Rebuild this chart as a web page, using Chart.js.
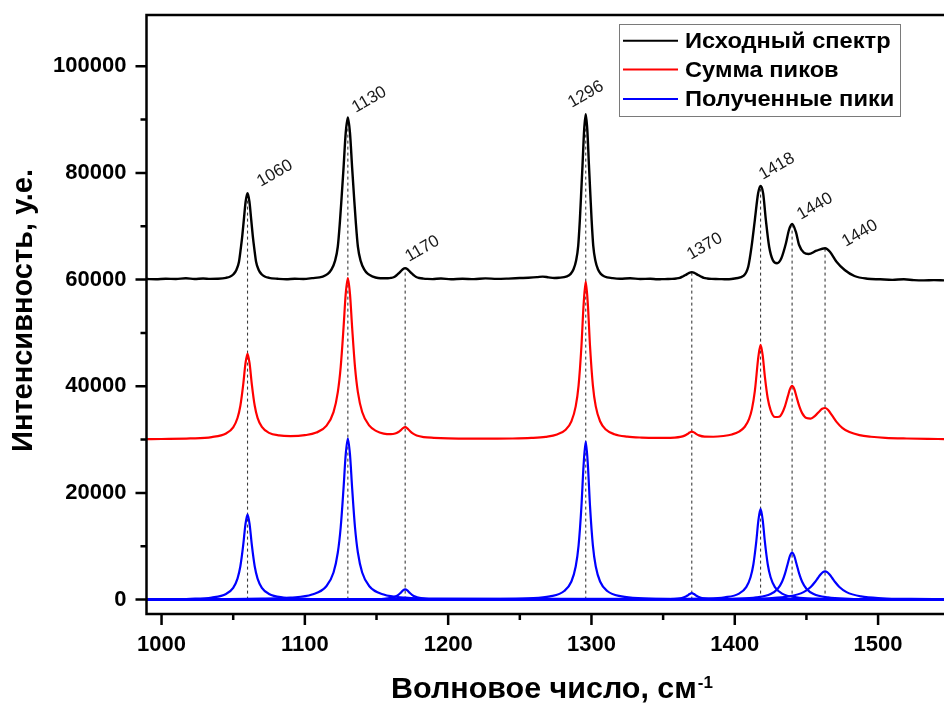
<!DOCTYPE html>
<html lang="ru">
<head>
<meta charset="utf-8">
<title>Разложение спектра на пики</title>
<script src="https://cdn.jsdelivr.net/npm/chart.js@4.4.1/dist/chart.umd.min.js"></script>
<style>
  html, body { margin: 0; padding: 0; background: #ffffff; }
  canvas { display: block; }
</style>
</head>
<body>
<canvas id="chart" width="944" height="704"></canvas>
<script>
const FONT = "'Liberation Sans', Arial, sans-serif";

// Axis ranges and ticks
const X_RANGE = [989.5, 1546];
const Y_RANGE = [-2700, 109600];
const X_TICKS = [1000, 1100, 1200, 1300, 1400, 1500];
const X_MINOR_TICKS = [1050, 1150, 1250, 1350, 1450];
const Y_TICKS = [0, 20000, 40000, 60000, 80000, 100000];
const Y_MINOR_TICKS = [10000, 30000, 50000, 70000, 90000];

const X_TITLE = 'Волновое число, см';
const X_TITLE_SUP = '-1';
const Y_TITLE = 'Интенсивность, у.е.';

const SERIES_NAMES = ['Исходный спектр', 'Сумма пиков', 'Полученные пики'];
const SERIES_COLORS = ['#000000', '#ff0000', '#0000ff'];

// Measured spectrum (offset by 60000)
const SPECTRUM_X = [989.5, 996, 1003, 1010, 1017, 1023, 1029, 1034, 1039, 1045, 1048, 1050.2, 1052.3, 1054, 1055.3, 1056.3, 1057.4, 1058.7,
  1060, 1061.3, 1062.6, 1063.7, 1064.7, 1066, 1067.7, 1069.8, 1072, 1075, 1081, 1087, 1093, 1099, 1105, 1112.5, 1116, 1118.5, 1121, 1123,
  1124.5, 1125.6, 1127, 1128.5, 1130, 1131.5, 1133, 1134.4, 1135.5, 1137, 1139, 1141.5, 1144, 1147.5, 1151, 1155, 1158, 1160.1, 1162.3,
  1164, 1165.2, 1166.7, 1168.35, 1170, 1171.65, 1173.3, 1174.8, 1176, 1177.7, 1179.9, 1182.7, 1185.4, 1189, 1195, 1202, 1210, 1218, 1226,
  1234, 1242, 1250, 1256, 1262, 1266, 1270, 1274, 1277.2, 1282.9, 1285.5, 1287.4, 1289.25, 1290.75, 1291.9, 1292.7, 1293.75, 1294.9, 1296,
  1297.1, 1298.25, 1299.3, 1300.1, 1301.25, 1302.75, 1304.6, 1306.5, 1309.1, 1314.8, 1320, 1327, 1334, 1341, 1346, 1349, 1353.2, 1356.2,
  1359.2, 1361.6, 1363.4, 1364.7, 1366.4, 1368.2, 1370, 1371.8, 1373.6, 1375.3, 1376.6, 1378.4, 1380.8, 1383.8, 1386.8, 1391, 1396, 1401,
  1406, 1409.4, 1411.7, 1414, 1416.3, 1418, 1419.8, 1421.7, 1424, 1426.5, 1429.5, 1432.5, 1435.7, 1437.8, 1440, 1442.6, 1444.9, 1448.2,
  1451.5, 1457, 1463, 1466.4, 1471, 1476.7, 1483.5, 1492.5, 1501.5, 1510, 1518, 1525, 1532, 1539, 1546];
const SPECTRUM_Y = [60100, 60050, 60150, 60100, 60250, 60100, 60200, 60120, 60150, 60330, 60580, 61000, 61850, 63300, 65850, 68100, 71150, 74650,
  76200, 74650, 71150, 68100, 65850, 63300, 61850, 61000, 60580, 60330, 60150, 60050, 60150, 60100, 60260, 60560, 61050, 61850, 63450, 66200,
  70950, 75200, 80950, 87450, 90400, 87450, 80950, 75200, 70950, 66200, 63450, 61850, 61050, 60560, 60300, 60250, 60250, 60310, 60480,
  60810, 61100, 61500, 61950, 62150, 61950, 61500, 61100, 60810, 60480, 60290, 60180, 60120, 60090, 60200, 60050, 60150, 60080, 60230,
  60120, 60180, 60280, 60350, 60450, 60550, 60420, 60300, 60330, 60600, 61070, 61880, 63520, 66330, 71190, 75530, 81400, 88060, 91000,
  88060, 81400, 75530, 71190, 66330, 63520, 61880, 61070, 60580, 60270, 60150, 60250, 60100, 60150, 60050, 60080, 60100, 60130,
  60200, 60320, 60540, 60730, 60980, 61270, 61400, 61270, 60980, 60730, 60540, 60320, 60200, 60130, 60100, 60080, 60050, 60250,
  60670, 62410, 66160, 71160, 76170, 77540, 76170, 71160, 66160, 63670, 63050, 63990, 66800, 69290, 70420, 68970, 66480, 65040,
  64790, 65410, 65860, 65220, 63350, 61790, 60670, 60160, 60050, 59950, 60050, 59900, 59850, 59900, 59850];

// Sum of fitted peaks (offset by 30000)
const SUM_X = [989.5, 1000, 1020, 1035, 1045, 1050, 1053, 1055, 1057, 1058.5, 1060, 1061.5, 1063, 1065, 1067, 1070, 1075, 1082, 1090, 1100,
  1108, 1115, 1120, 1123, 1125, 1127, 1128.5, 1130, 1131.5, 1133, 1135, 1137, 1140, 1145, 1150, 1155, 1160, 1163, 1165, 1167, 1168.5,
  1170, 1171.5, 1173, 1175, 1178, 1183, 1190, 1200, 1215, 1230, 1245, 1258, 1268, 1276, 1282, 1286, 1289, 1291, 1293, 1294.5, 1296,
  1297.5, 1299, 1301, 1303, 1306, 1310, 1316, 1325, 1335, 1345, 1352, 1358, 1362, 1365, 1367, 1368.5, 1370, 1371.5, 1373, 1375, 1379,
  1385, 1392, 1398, 1403, 1407, 1410, 1412, 1414, 1416.5, 1418, 1419.5, 1421, 1423, 1425, 1428, 1431, 1433, 1435, 1437, 1438.5, 1440,
  1441.5, 1443, 1445, 1447, 1450, 1453, 1456, 1459, 1461, 1463, 1465, 1468, 1471, 1475, 1480, 1487, 1495, 1505, 1520, 1535, 1546];
const SUM_Y = [30080, 30110, 30210, 30470, 31150, 32300, 34040, 36350, 40350, 44140, 46130, 44150, 40370, 36380, 34080, 32380, 31260, 30780, 30660, 30820,
  31320, 32580, 35160, 38910, 43600, 50990, 57260, 60280, 57260, 50990, 43590, 38910, 35180, 32600, 31580, 31130, 31010, 31130, 31370, 31780, 32140,
  32320, 32110, 31690, 31200, 30770, 30470, 30330, 30220, 30170, 30170, 30200, 30310, 30520, 30960, 31860, 33420, 36220, 40130, 47490, 55250, 59630,
  55250, 47490, 40130, 36220, 33440, 31880, 31000, 30550, 30370, 30310, 30310, 30370, 30500, 30740, 31040, 31330, 31490, 31350, 31070, 30790, 30560,
  30530, 30670, 30960, 31490, 32400, 33870, 35760, 39090, 45590, 47760, 45750, 41820, 37750, 35540, 34230, 34280, 34950, 36230, 38090, 39460, 40060,
  39480, 38110, 36260, 34960, 34040, 33940, 34430, 35280, 35770, 35920, 35590, 34490, 33330, 32210, 31400, 30830, 30530, 30330, 30200, 30130, 30100];

// Individual fitted bands
const COMPONENT_X = [
  [989.5, 1000, 1020, 1035, 1045, 1050, 1053, 1055, 1057, 1058.5, 1060, 1061.5, 1063, 1065, 1067, 1070, 1075, 1085, 1100, 1120, 1546],
  [989.5, 1070, 1090, 1105, 1115, 1120, 1123, 1125, 1127, 1128.5, 1130, 1131.5, 1133, 1135, 1137, 1140, 1145, 1155, 1170, 1190, 1546],
  [989.5, 1110, 1130, 1145, 1155, 1160, 1163, 1165, 1167, 1168.5, 1170, 1171.5, 1173, 1175, 1177, 1180, 1185, 1195, 1210, 1230, 1546],
  [989.5, 1236, 1256, 1271, 1281, 1286, 1289, 1291, 1293, 1294.5, 1296, 1297.5, 1299, 1301, 1303, 1306, 1311, 1321, 1336, 1356, 1546],
  [989.5, 1310, 1330, 1345, 1355, 1360, 1363, 1365, 1367, 1368.5, 1370, 1371.5, 1373, 1375, 1377, 1380, 1385, 1395, 1410, 1430, 1546],
  [989.5, 1358, 1378, 1393, 1403, 1408, 1411, 1413, 1415, 1416.5, 1418, 1419.5, 1421, 1423, 1425, 1428, 1433, 1443, 1458, 1478, 1546],
  [989.5, 1380, 1400, 1415, 1425, 1430, 1433, 1435, 1437, 1438.5, 1440, 1441.5, 1443, 1445, 1447, 1450, 1455, 1465, 1480, 1500, 1546],
  [989.5, 1403, 1423, 1438, 1448, 1453, 1456, 1458, 1460, 1461.5, 1463, 1464.5, 1466, 1468, 1470, 1473, 1478, 1488, 1503, 1523, 1546]
];
const COMPONENT_Y = [
  [49, 70, 158, 399, 1062, 2207, 3938, 6244, 10240, 14027, 16000, 14027, 10240, 6244, 3938, 2207, 1062, 399, 158, 70, 1],
  [31, 169, 377, 948, 2494, 5086, 8830, 13514, 20908, 27180, 30200, 27180, 20908, 13514, 8830, 5086, 2494, 948, 377, 169, 3],
  [1, 11, 24, 60, 157, 320, 556, 850, 1315, 1710, 1900, 1710, 1315, 850, 556, 320, 157, 60, 24, 11, 0],
  [4, 106, 238, 602, 1612, 3396, 6191, 10106, 17468, 25222, 29600, 25222, 17468, 10106, 6191, 3396, 1612, 602, 238, 106, 6],
  [0, 5, 12, 30, 80, 166, 295, 468, 768, 1052, 1200, 1052, 768, 468, 295, 166, 80, 30, 12, 5, 1],
  [2, 75, 168, 424, 1129, 2345, 4185, 6634, 10880, 14904, 17000, 14904, 10880, 6634, 4185, 2345, 1129, 424, 168, 75, 17],
  [1, 73, 163, 406, 1043, 2044, 3359, 4819, 6782, 8191, 8800, 8191, 6782, 4819, 3359, 2044, 1043, 406, 163, 73, 24],
  [2, 117, 255, 608, 1403, 2372, 3302, 4049, 4770, 5157, 5300, 5157, 4770, 4049, 3302, 2372, 1403, 608, 255, 117, 62]
];

// Band positions, marker lines and their captions
const PEAK_CENTERS = [1060, 1130, 1170, 1296, 1370, 1418, 1440, 1463];
const PEAK_TOPS = [76200, 90400, 62150, 91000, 61400, 77540, 70420, 65860];
const PEAK_LABELS = ['1060', '1130', '1170', '1296', '1370', '1418', '1440', '1440'];
const LABEL_X = [1069.3, 1135.6, 1172.6, 1286.3, 1369.2, 1419.6, 1446.1, 1477.5];
const LABEL_Y = [77350, 91240, 63290, 92170, 63670, 78670, 71160, 66110];

const points = (xs, ys) => xs.map((x, i) => ({ x, y: ys[i] }));

const datasets = [
  { label: SERIES_NAMES[0], data: points(SPECTRUM_X, SPECTRUM_Y), borderColor: SERIES_COLORS[0], borderWidth: 2.4 },
  { label: SERIES_NAMES[1], data: points(SUM_X, SUM_Y), borderColor: SERIES_COLORS[1] },
  ...COMPONENT_X.map((xs, k) => ({
    label: SERIES_NAMES[2], data: points(xs, COMPONENT_Y[k]), borderColor: SERIES_COLORS[2]
  })),
  ...PEAK_CENTERS.map((c, k) => ({
    label: 'marker ' + PEAK_LABELS[k],
    data: [{ x: c, y: 0 }, { x: c, y: PEAK_TOPS[k] }],
    borderColor: '#3c3c3c', borderWidth: 1.1, borderDash: [3, 3],
    cubicInterpolationMode: 'default', tension: 0
  }))
];

// Draws text squeezed or widened horizontally by factor sx
function stretchedText(ctx, text, x, y, sx) {
  ctx.save();
  ctx.translate(x, y);
  ctx.scale(sx, 1);
  ctx.fillText(text, 0, 0);
  ctx.restore();
}

const decorations = {
  id: 'decorations',
  beforeDraw(chart) {
    const ctx = chart.ctx;
    ctx.save();
    ctx.fillStyle = '#ffffff';
    ctx.fillRect(0, 0, chart.width, chart.height);
    ctx.restore();
  },
  afterDatasetsDraw(chart) {
    const { ctx, scales: { x, y } } = chart;
    ctx.save();
    ctx.font = `17px ${FONT}`;
    ctx.fillStyle = '#1a1a1a';
    ctx.textAlign = 'left';
    ctx.textBaseline = 'alphabetic';
    PEAK_LABELS.forEach((t, i) => {
      ctx.save();
      ctx.translate(x.getPixelForValue(LABEL_X[i]), y.getPixelForValue(LABEL_Y[i]));
      ctx.rotate(-30 * Math.PI / 180);
      ctx.fillText(t, 0, 0);
      ctx.restore();
    });
    ctx.restore();
  },
  afterDraw(chart) {
    const { ctx, chartArea: a, scales: { x, y } } = chart;
    ctx.save();
    // frame
    ctx.strokeStyle = '#000000';
    ctx.lineWidth = 2.5;
    ctx.lineCap = 'butt';
    ctx.beginPath();
    ctx.moveTo(a.left - 1.25, a.top); ctx.lineTo(a.right, a.top);
    ctx.moveTo(a.left, a.top); ctx.lineTo(a.left, a.bottom + 1.25);
    ctx.moveTo(a.left - 1.25, a.bottom); ctx.lineTo(a.right, a.bottom);
    ctx.stroke();
    // ticks, pointing outward
    ctx.beginPath();
    X_TICKS.forEach(v => { const p = x.getPixelForValue(v); ctx.moveTo(p, a.bottom); ctx.lineTo(p, a.bottom + 11); });
    X_MINOR_TICKS.forEach(v => { const p = x.getPixelForValue(v); ctx.moveTo(p, a.bottom); ctx.lineTo(p, a.bottom + 6); });
    Y_TICKS.forEach(v => { const p = y.getPixelForValue(v); ctx.moveTo(a.left, p); ctx.lineTo(a.left - 11, p); });
    Y_MINOR_TICKS.forEach(v => { const p = y.getPixelForValue(v); ctx.moveTo(a.left, p); ctx.lineTo(a.left - 6, p); });
    ctx.stroke();

    // axis titles
    ctx.fillStyle = '#000000';
    ctx.font = `bold 29px ${FONT}`;
    ctx.textBaseline = 'alphabetic';
    ctx.save();
    ctx.translate(32, (a.top + a.bottom) / 2 - 4);
    ctx.rotate(-Math.PI / 2);
    ctx.textAlign = 'center';
    ctx.fillText(Y_TITLE, 0, 0);
    ctx.restore();

    const sx = 1.05;
    const mainW = ctx.measureText(X_TITLE).width * sx;
    ctx.font = `bold 17px ${FONT}`;
    const supW = ctx.measureText(X_TITLE_SUP).width;
    const startX = 552 - (mainW + 1 + supW) / 2;
    ctx.textAlign = 'left';
    ctx.font = `bold 29px ${FONT}`;
    stretchedText(ctx, X_TITLE, startX, 698, sx);
    ctx.font = `bold 17px ${FONT}`;
    ctx.fillText(X_TITLE_SUP, startX + mainW + 1, 688);

    // legend
    const box = { x: 619.5, y: 24.5, w: 281, h: 92 };
    ctx.fillStyle = '#ffffff';
    ctx.fillRect(box.x, box.y, box.w, box.h);
    ctx.strokeStyle = '#7a7a7a';
    ctx.lineWidth = 1;
    ctx.strokeRect(box.x, box.y, box.w, box.h);
    const rows = [40.7, 69.5, 99];
    ctx.font = `bold 22px ${FONT}`;
    ctx.textBaseline = 'middle';
    SERIES_NAMES.forEach((name, i) => {
      ctx.strokeStyle = SERIES_COLORS[i];
      ctx.lineWidth = 2;
      ctx.beginPath();
      ctx.moveTo(623, rows[i]); ctx.lineTo(678, rows[i]);
      ctx.stroke();
      ctx.fillStyle = '#000000';
      stretchedText(ctx, name, 685, rows[i] + 1, 1.075);
    });
    ctx.restore();
  }
};

const tickFont = { family: FONT, size: 22, weight: 'bold' };

new Chart(document.getElementById('chart'), {
  type: 'line',
  data: { datasets },
  options: {
    responsive: false,
    animation: false,
    devicePixelRatio: 1,
    layout: { padding: { top: 15, right: 0, bottom: 0, left: 0 } },
    elements: {
      point: { radius: 0 },
      line: { borderWidth: 2.2, cubicInterpolationMode: 'monotone', fill: false }
    },
    plugins: { legend: { display: false }, tooltip: { enabled: false } },
    scales: {
      x: {
        type: 'linear', min: X_RANGE[0], max: X_RANGE[1],
        grid: { display: false, drawTicks: false }, border: { display: false },
        ticks: { color: '#000000', font: tickFont, padding: 18, maxRotation: 0, autoSkip: false, callback: v => String(v) },
        afterBuildTicks: s => { s.ticks = X_TICKS.map(v => ({ value: v })); },
        afterFit: s => { s.height = 90; s.paddingLeft = 0; s.paddingRight = 0; }
      },
      y: {
        type: 'linear', min: Y_RANGE[0], max: Y_RANGE[1],
        grid: { display: false, drawTicks: false }, border: { display: false },
        ticks: { color: '#000000', font: tickFont, padding: 20, autoSkip: false, callback: v => String(v) },
        afterBuildTicks: s => { s.ticks = Y_TICKS.map(v => ({ value: v })); },
        afterFit: s => { s.width = 146.5; s.paddingTop = 0; s.paddingBottom = 0; }
      }
    }
  },
  plugins: [decorations]
});
</script>
</body>
</html>
